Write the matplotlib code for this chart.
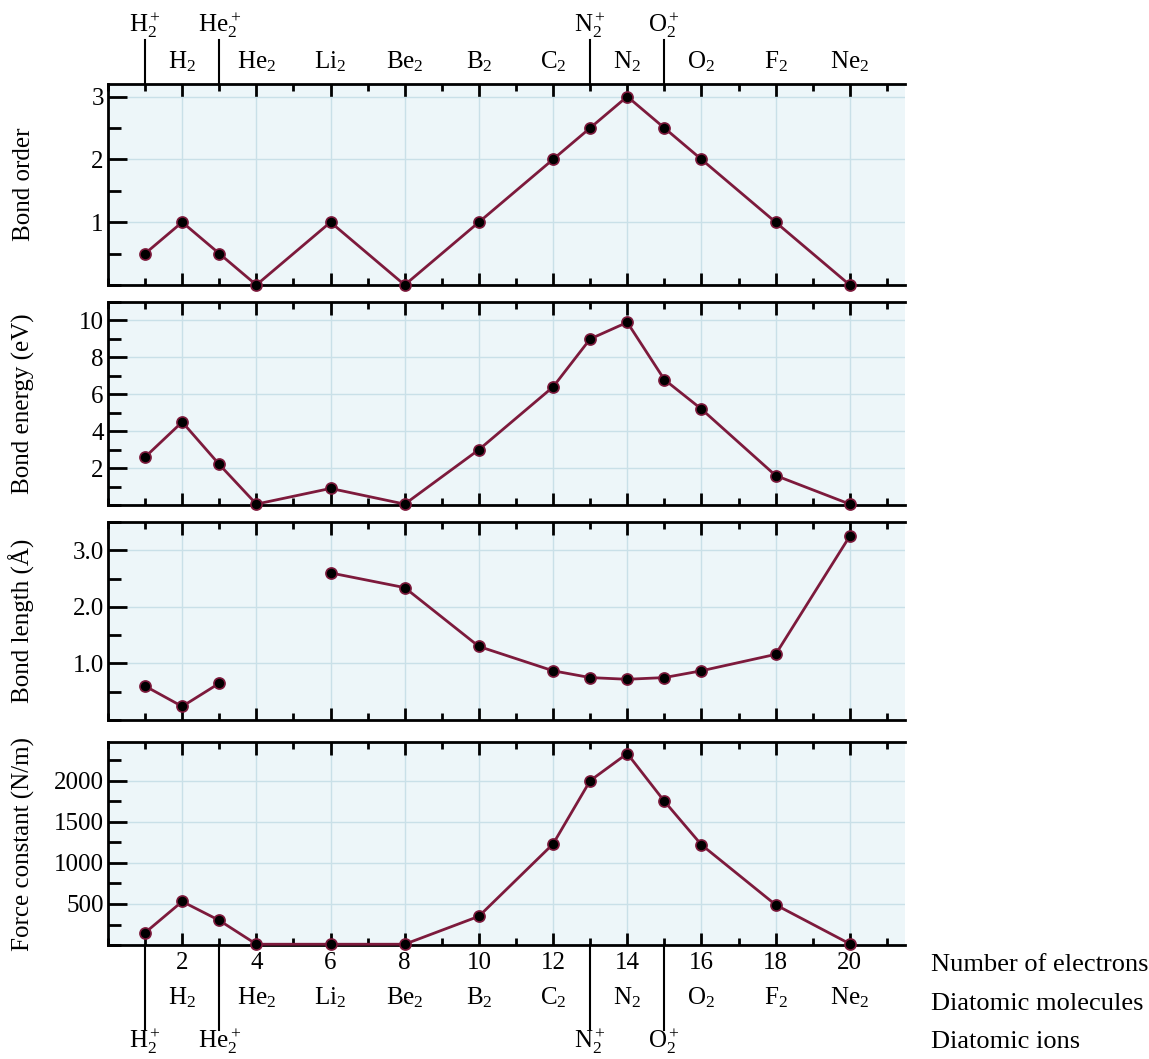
import numpy as np
import matplotlib.pyplot as plt
from matplotlib.ticker import MultipleLocator

plt.rcParams['font.family'] = ['Liberation Serif', 'DejaVu Serif']
plt.rcParams['mathtext.fontset'] = 'custom'
plt.rcParams['mathtext.rm'] = 'Liberation Serif'
plt.rcParams['mathtext.it'] = 'Liberation Serif'

# data (number of electrons -> property)
order_x = [1, 2, 3, 4, 6, 8, 10, 12, 13, 14, 15, 16, 18, 20]
order_y = [0.5, 1, 0.5, 0, 1, 0, 1, 2, 2.5, 3, 2.5, 2, 1, 0]

energy_x = [1, 2, 3, 4, 6, 8, 10, 12, 13, 14, 15, 16, 18, 20]
energy_y = [2.6, 4.5, 2.2, 0.05, 0.9, 0.05, 3.0, 6.4, 9.0, 9.9, 6.8, 5.2, 1.6, 0.05]

length_x1 = [1, 2, 3]
length_y1 = [0.6, 0.24, 0.65]
length_x2 = [6, 8, 10, 12, 13, 14, 15, 16, 18, 20]
length_y2 = [2.6, 2.34, 1.3, 0.87, 0.75, 0.72, 0.75, 0.87, 1.16, 3.25]

force_x = [1, 2, 3, 4, 6, 8, 10, 12, 13, 14, 15, 16, 18, 20]
force_y = [150, 530, 300, 10, 10, 10, 350, 1230, 2000, 2330, 1750, 1220, 490, 15]

mol_x = [2, 4, 6, 8, 10, 12, 14, 16, 18, 20]
mol_names = ['H$_2$', 'He$_2$', 'Li$_2$', 'Be$_2$', 'B$_2$', 'C$_2$', 'N$_2$', 'O$_2$', 'F$_2$', 'Ne$_2$']
ion_x = [1, 3, 13, 15]
ion_names = ['H$_2^+$', 'He$_2^+$', 'N$_2^+$', 'O$_2^+$']

line_col = '#7d1a3c'
bg = '#edf6f9'
grid_col = '#c9e0e8'
fs = 18

fig = plt.figure(figsize=(11.49, 10.59), dpi=100)
left, width = 0.094, 0.694
boxes = [(0.7309, 0.1898), (0.5231, 0.1917), (0.3201, 0.187), (0.1076, 0.1917)]
axes = [fig.add_axes([left, b, width, h]) for b, h in boxes]

settings = [
    ('Bond order', (0, 3.2), 0.5, [1, 2, 3], ['1', '2', '3']),
    ('Bond energy (eV)', (0, 11), 1, [2, 4, 6, 8, 10], ['2', '4', '6', '8', '10']),
    ('Bond length (Å)', (0, 3.5), 0.5, [1, 2, 3], ['1.0', '2.0', '3.0']),
    ('Force constant (N/m)', (0, 2470), 250, [500, 1000, 1500, 2000], ['500', '1000', '1500', '2000']),
]

for ax, (lab, ylim, minor, yt, ytl) in zip(axes, settings):
    ax.set_facecolor(bg)
    ax.set_xlim(0, 21.5)
    ax.set_ylim(*ylim)
    ax.spines['right'].set_visible(False)
    for s in ['left', 'top', 'bottom']:
        ax.spines[s].set_linewidth(2)
    ax.set_xticks(range(2, 21, 2))
    ax.xaxis.set_minor_locator(MultipleLocator(1))
    ax.set_yticks(yt)
    ax.set_yticklabels(ytl)
    ax.yaxis.set_minor_locator(MultipleLocator(minor))
    ax.tick_params(which='both', direction='in', top=True, bottom=True, right=False, width=2)
    ax.tick_params(which='major', length=9, labelsize=fs)
    ax.tick_params(which='minor', length=5)
    ax.tick_params(axis='y', which='major', length=14, pad=3)
    ax.tick_params(axis='y', which='minor', length=9)
    ax.grid(True, which='major', color=grid_col, lw=1)
    ax.set_ylabel(lab, fontsize=18)
    ax.yaxis.set_label_coords(-0.092, 0.5)
    if ax is not axes[-1]:
        ax.set_xticklabels([])

kw = dict(color=line_col, lw=2, marker='o', ms=8, mfc='black', mec=line_col, mew=1.2, clip_on=False, zorder=5)
axes[0].plot(order_x, order_y, **kw)
axes[1].plot(energy_x, energy_y, **kw)
axes[2].plot(length_x1, length_y1, **kw)
axes[2].plot(length_x2, length_y2, **kw)
axes[3].plot(force_x, force_y, **kw)

axes[3].tick_params(axis='x', which='major', pad=5, labelsize=fs)

# labels above the top panel
top = axes[0]
tt = top.get_xaxis_transform()
for x, n in zip(mol_x, mol_names):
    top.text(x, 1.05, n, transform=tt, ha='center', va='bottom', fontsize=fs)
for x, n in zip(ion_x, ion_names):
    top.plot([x, x], [1.0, 1.22], transform=tt, color='black', lw=1.5, clip_on=False)
    top.text(x, 1.22, n, transform=tt, ha='center', va='bottom', fontsize=fs)

# labels under the bottom panel
bot = axes[3]
bt = bot.get_xaxis_transform()
for x, n in zip(mol_x, mol_names):
    bot.text(x, -0.2, n, transform=bt, ha='center', va='top', fontsize=fs)
for x, n in zip(ion_x, ion_names):
    bot.plot([x, x], [0.0, -0.42], transform=bt, color='black', lw=1.5, clip_on=False)
    bot.text(x, -0.4, n, transform=bt, ha='center', va='top', fontsize=fs)

for yy, t in [(-0.1, 'Number of electrons'), (-0.29, 'Diatomic molecules'), (-0.48, 'Diatomic ions')]:
    bot.text(22.2, yy, t, transform=bt, ha='left', va='center', fontsize=19)

fig.savefig('out.png', dpi=100)
